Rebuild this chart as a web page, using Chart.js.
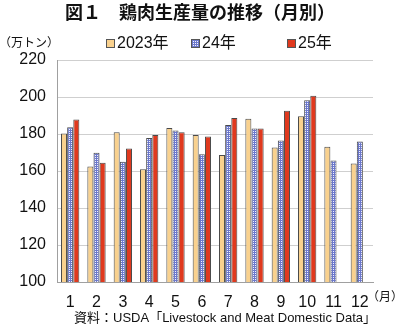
<!DOCTYPE html>
<html>
<head>
<meta charset="utf-8">
<script src="https://cdn.jsdelivr.net/npm/chart.js@4"></script>
<style>
  html, body { margin: 0; padding: 0; background: #fff; }
  #wrap { width: 400px; height: 331px; position: relative; }
</style>
</head>
<body>
<div id="wrap"><canvas id="chart" width="400" height="331"></canvas></div>
<script>
// ---------- data ----------
const months = ["1", "2", "3", "4", "5", "6", "7", "8", "9", "10", "11", "12"];
const seriesNames = ["2023年", "24年", "25年"];
const prod2023 = [180.3, 162.5, 181.0, 160.9, 183.3, 179.4, 168.6, 188.3, 172.7, 189.6, 173.1, 164.1];
const prod2024 = [183.7, 169.9, 165.0, 177.8, 181.9, 169.0, 184.8, 183.0, 176.5, 198.2, 165.7, 176.0];
const prod2025 = [187.8, 164.5, 172.2, 179.4, 181.0, 178.7, 188.7, 183.0, 192.6, 200.7, null, null];
const yTicks = [100, 120, 140, 160, 180, 200, 220];

const TITLE = "図１　鶏肉生産量の推移（月別）";
const UNIT = "（万トン）";
const MONTH_SUFFIX = "（月）";
const SOURCE = "資料：USDA「Livestock and Meat Domestic Data」";
const FONT = "'Liberation Sans', 'Noto Sans CJK JP', sans-serif";

// ---------- helpers ----------
function gridPattern() {
  const c = document.createElement("canvas");
  c.width = 2;
  c.height = 2;
  const g = c.getContext("2d");
  g.fillStyle = "#f2f3ff";
  g.fillRect(0, 0, 2, 2);
  g.fillStyle = "#6c78cc";
  g.fillRect(0, 0, 2, 1);
  g.fillRect(0, 0, 1, 2);
  return g.createPattern(c, "repeat");
}

// extra text + custom legend
const decorations = {
  id: "decorations",
  afterDraw(chart) {
    const ctx = chart.ctx;
    ctx.save();
    ctx.fillStyle = "#111";
    ctx.textBaseline = "middle";

    ctx.font = "bold 18px " + FONT;
    ctx.textAlign = "center";
    ctx.fillText(TITLE, 200, 14);

    ctx.font = "12px " + FONT;
    ctx.textAlign = "left";
    ctx.fillText(UNIT, -1, 44);

    ctx.font = "12px " + FONT;
    ctx.fillText(MONTH_SUFFIX, 367, 298);

    ctx.font = "13px " + FONT;
    ctx.textAlign = "center";
    ctx.fillText(SOURCE, 225, 318);

    // legend
    const legendX = [106, 191, 287];
    chart.data.datasets.forEach((ds, i) => {
      const x = legendX[i];
      ctx.fillStyle = ds.backgroundColor;
      ctx.fillRect(x, 39, 9, 9);
      ctx.strokeStyle = "#555";
      ctx.lineWidth = 1;
      ctx.strokeRect(x + 0.5, 39.5, 8, 8);
      ctx.fillStyle = "#111";
      ctx.font = "16px " + FONT;
      ctx.textAlign = "left";
      ctx.fillText(ds.label, x + 11, 44);
    });
    ctx.restore();
  },
};

function buildChart() {
  const ctx = document.getElementById("chart").getContext("2d");
  const common = {
    borderColor: "#4a4a4a",
    borderWidth: 1,
    categoryPercentage: 0.7,
    barPercentage: 0.98,
  };
  new Chart(ctx, {
    type: "bar",
    data: {
      labels: months,
      datasets: [
        { label: seriesNames[0], data: prod2023, backgroundColor: "#f9d18e", ...common },
        { label: seriesNames[1], data: prod2024, backgroundColor: gridPattern(), ...common },
        { label: seriesNames[2], data: prod2025, backgroundColor: "#e0391e", ...common },
      ],
    },
    options: {
      responsive: false,
      animation: false,
      layout: { padding: { top: 60, right: 27, bottom: 0, left: 0 } },
      plugins: { legend: { display: false }, tooltip: { enabled: false } },
      scales: {
        x: {
          grid: { display: false },
          border: { color: "#a0a0a0" },
          afterFit: (axis) => { axis.height = 49; },
          ticks: { color: "#111", font: { size: 16, family: FONT }, padding: 3, maxRotation: 0 },
        },
        y: {
          min: 100,
          max: 220,
          afterBuildTicks: (axis) => { axis.ticks = yTicks.map((v) => ({ value: v })); },
          afterFit: (axis) => { axis.width = 57; },
          grid: { color: "#cfcfcf", drawTicks: false },
          border: { color: "#a0a0a0" },
          ticks: { color: "#111", font: { size: 16, family: FONT }, padding: 11 },
        },
      },
    },
    plugins: [decorations],
  });
}

window.addEventListener("DOMContentLoaded", buildChart);
</script>
</body>
</html>
